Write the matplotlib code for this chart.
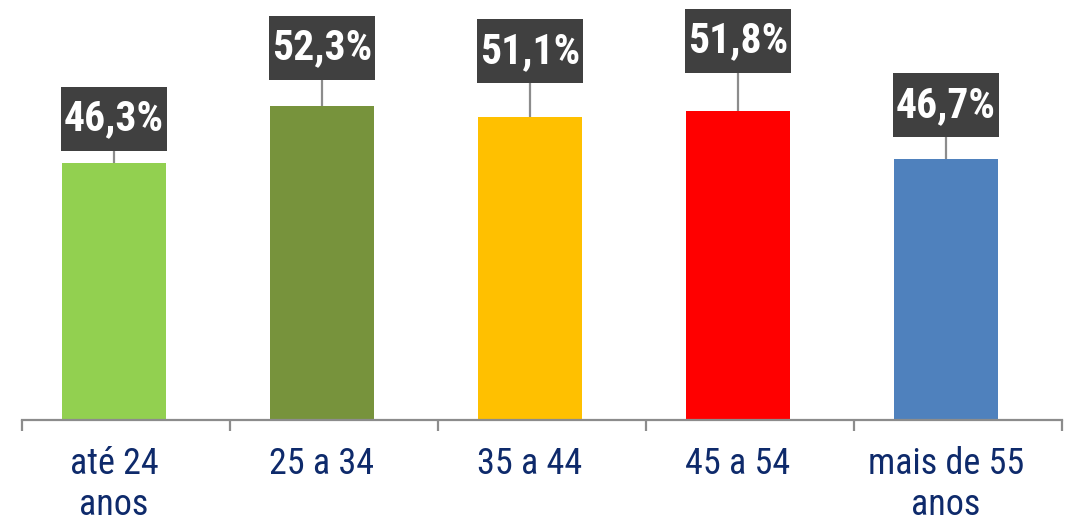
import numpy as np
import matplotlib
matplotlib.use("Agg")
import matplotlib.pyplot as plt
from matplotlib.patches import Rectangle

# dados
categorias = ["até 24\nanos", "25 a 34", "35 a 44", "45 a 54", "mais de 55\nanos"]
valores = [46.3, 52.3, 51.1, 51.8, 46.7]
rotulos = ["46,3%", "52,3%", "51,1%", "51,8%", "46,7%"]
cores = ["#92D050", "#77933C", "#FFC000", "#FF0000", "#4F81BD"]
# distância (px) do topo da barra ao centro da caixa do rótulo
desloc_px = [44, 58, 66, 70, 54]

plt.rcParams['font.family'] = ['Roboto Condensed', 'DejaVu Sans']

fig = plt.figure(figsize=(10.74, 5.27), dpi=100)
W, H = 1074, 527
ax = fig.add_axes([22 / W, (H - 420) / H, 1040 / W, 420 / H])

x = np.arange(len(valores))
ax.bar(x, valores, width=0.5, color=cores, zorder=2)

x0 = -92 / 208
ax.set_xlim(x0, x0 + 5)
ax.set_ylim(19.4, 19.4 + 420 / 9.55)

# eixo
for s in ['top', 'right', 'left']:
    ax.spines[s].set_visible(False)
ax.spines['bottom'].set_color('#8C8C8C')
ax.spines['bottom'].set_linewidth(1.6)
ax.set_yticks([])
ax.set_xticks(np.arange(6) + x0)
ax.set_xticklabels([])
ax.tick_params(axis='x', length=8, width=1.6, color='#8C8C8C', direction='out')
ax.set_xticks(x, minor=True)
ax.set_xticklabels(categorias, minor=True, fontsize=26, color='#0E2A6B')
for lbl in ax.get_xticklabels(minor=True):
    lbl.set_linespacing(1.15)
ax.tick_params(axis='x', which='minor', length=0, pad=19)

# rótulos em caixas escuras
for i, (v, txt, d) in enumerate(zip(valores, rotulos, desloc_px)):
    topo = ax.transData.transform((i, v))[1]
    inv = ax.transData.inverted()
    yc = inv.transform((0, topo + d))[1]
    yb = inv.transform((0, topo + d - 32))[1]
    yt = inv.transform((0, topo + d + 32))[1]
    ax.plot([i, i], [v, yb], color='#8C8C8C', lw=1.6, zorder=1, clip_on=False)
    ax.add_patch(Rectangle((i - 0.255, yb), 0.51, yt - yb, facecolor='#404040',
                           edgecolor='none', zorder=3, clip_on=False))
    ax.text(i, yc, txt, ha='center', va='center', color='white', fontsize=30,
            fontweight='bold', zorder=4)

fig.savefig("out.png", dpi=100)
